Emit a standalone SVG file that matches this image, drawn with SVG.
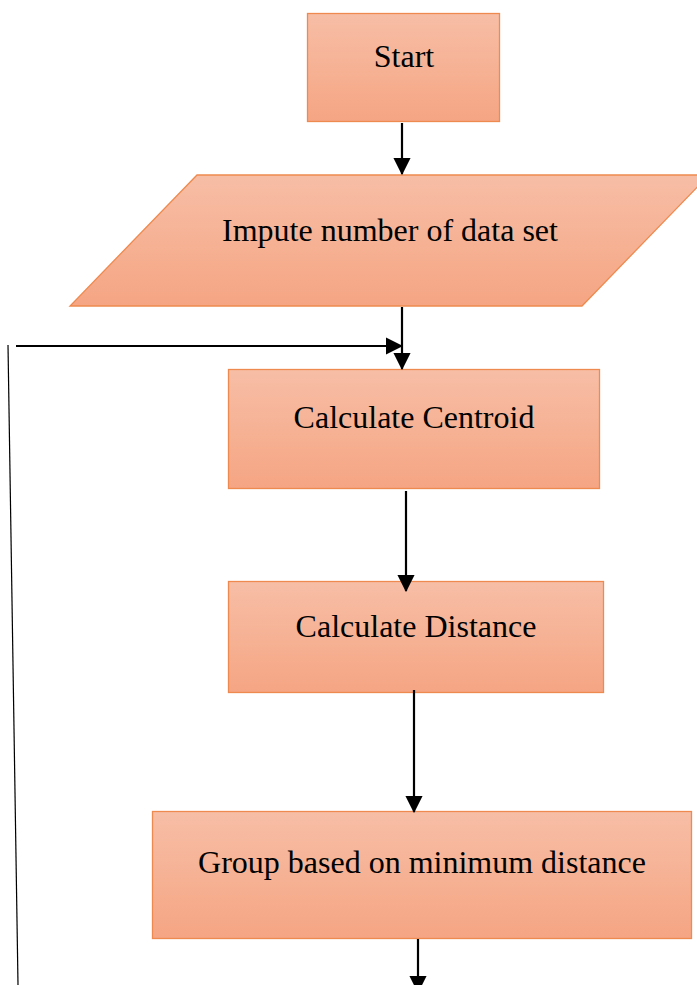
<svg xmlns="http://www.w3.org/2000/svg" width="697" height="985" viewBox="0 0 697 985">
<defs>
<linearGradient id="g" x1="0" y1="0" x2="0" y2="1">
<stop offset="0" stop-color="#f7bea6"/>
<stop offset="1" stop-color="#f5a583"/>
</linearGradient>
<marker id="ah" markerWidth="8" markerHeight="8" refX="7.5" refY="4" orient="auto" markerUnits="strokeWidth">
<path d="M0,0 L8,4 L0,8 Z" fill="#000"/>
</marker>
<style>
.n{fill:url(#g);stroke:#ee8a4f;stroke-width:1.3}
.t{font-family:"Liberation Serif","Times New Roman",serif;font-size:32px;fill:#000;text-anchor:middle}
.c{stroke:#000;stroke-width:2.2;fill:none}
</style>
</defs>
<rect width="697" height="985" fill="#fff"/>
<g id="start"><rect class="n" x="307.5" y="13.5" width="192" height="108"/><text class="t" x="404" y="67">Start</text></g>
<g id="input"><polygon class="n" points="197,175 709,175 582,306 70,306"/><text class="t" x="390" y="241">Impute number of data set</text></g>
<g id="centroid"><rect class="n" x="228.5" y="369.5" width="371" height="119"/><text class="t" x="414" y="428">Calculate Centroid</text></g>
<g id="distance"><rect class="n" x="228.5" y="581.5" width="375" height="111"/><text class="t" x="416" y="637">Calculate Distance</text></g>
<g id="group"><rect class="n" x="152.5" y="811.5" width="539" height="127"/><text class="t" x="422" y="873">Group based on minimum distance</text></g>
<g id="connectors">
<line class="c" x1="402" y1="123" x2="402" y2="174" marker-end="url(#ah)"/>
<line class="c" x1="402" y1="307" x2="402" y2="369" marker-end="url(#ah)"/>
<line class="c" x1="16" y1="346" x2="402" y2="346" marker-end="url(#ah)"/>
<line x1="8" y1="345" x2="18" y2="985" stroke="#000" stroke-width="1.2"/>
<line class="c" x1="406" y1="491" x2="406" y2="591" marker-end="url(#ah)"/>
<line class="c" x1="414" y1="690" x2="414" y2="812" marker-end="url(#ah)"/>
<line class="c" x1="418" y1="939" x2="418" y2="992" marker-end="url(#ah)"/>
</g>
</svg>
